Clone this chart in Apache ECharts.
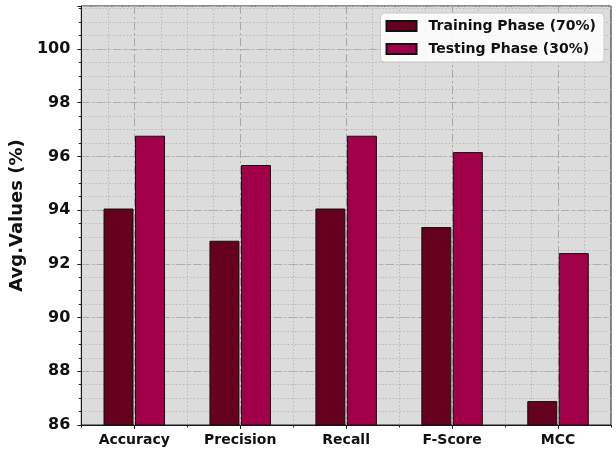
<!DOCTYPE html>
<html>
<head>
<meta charset="utf-8">
<script src="https://cdn.jsdelivr.net/npm/echarts@6/dist/echarts.min.js"></script>
<style>
  html, body { margin: 0; padding: 0; background: #ffffff; }
  #chart { width: 616px; height: 452px; }
</style>
</head>
<body>
<div id="chart"></div>
<script>
// Metric categories and per-phase averages (%)
const categories = ['Accuracy', 'Precision', 'Recall', 'F-Score', 'MCC'];
const trainingValues = [94.06, 92.86, 94.06, 93.37, 86.89];
const testingValues = [96.77, 95.68, 96.77, 96.16, 92.40];
const seriesNames = ['Training Phase (70%)', 'Testing Phase (30%)'];
const yTickStep = 2;

// Quarter-category positions across the x range (-0.5 .. 4.5) for the grid
const quarterSlots = [];
for (let k = 0; k <= categories.length * 4; k++) quarterSlots.push(String(k));

const FONT = 'DejaVu Sans';
const chart = echarts.init(document.getElementById('chart'), null, { renderer: 'canvas' });

const hiddenCat = (extra) => Object.assign({
  type: 'category',
  data: quarterSlots,
  boundaryGap: false,
  gridIndex: 0,
  position: 'bottom',
  axisLine: { show: false },
  axisLabel: { show: false },
  axisPointer: { show: false }
}, extra);

chart.setOption({
  animation: false,
  backgroundColor: '#ffffff',
  textStyle: { fontFamily: FONT },
  grid: {
    left: 81, right: 5, top: 6, bottom: 27,
    show: true,
    backgroundColor: '#dcdcdc',
    borderColor: '#1a1a1a',
    borderWidth: 1
  },
  legend: {
    orient: 'vertical',
    right: 12,
    top: 13,
    itemWidth: 30,
    itemHeight: 10,
    itemGap: 9,
    padding: [6, 8, 6, 5],
    backgroundColor: 'rgba(255,255,255,0.85)',
    borderColor: '#cccccc',
    borderWidth: 1,
    borderRadius: 4,
    icon: 'rect',
    textStyle: { fontFamily: FONT, fontWeight: 'bold', fontSize: 14, color: '#111', padding: [0, 0, 0, 7] },
    data: seriesNames
  },
  xAxis: [
    {
      type: 'category',
      data: categories,
      boundaryGap: true,
      axisLine: { show: true, lineStyle: { color: '#1a1a1a', width: 1 } },
      axisTick: { show: false },
      splitLine: { show: false },
      axisLabel: { fontFamily: FONT, fontWeight: 'bold', fontSize: 14, color: '#111', margin: 8 }
    },
    hiddenCat({
      // major vertical grid lines at each category centre
      axisTick: { show: true, interval: (i) => i % 4 === 2, length: 4, lineStyle: { color: '#222' } },
      splitLine: {
        show: true,
        interval: (i) => i % 4 === 2,
        lineStyle: { color: '#a6a6a6', width: 1, type: [8, 3, 2, 3] }
      }
    }),
    hiddenCat({
      // minor vertical grid lines every quarter category
      axisTick: { show: true, interval: (i) => i % 2 === 0 && i % 4 !== 2, length: 2.5, lineStyle: { color: '#222' } },
      splitLine: {
        show: true,
        interval: (i) => i % 4 !== 2 && i > 0 && i < quarterSlots.length - 1,
        lineStyle: { color: '#b9b9b9', width: 1, type: [1.5, 2] }
      }
    })
  ],
  yAxis: [
    {
      type: 'value',
      min: 86,
      max: 101.6,
      interval: yTickStep,
      name: 'Avg.Values (%)',
      nameLocation: 'middle',
      nameRotate: 90,
      nameGap: 48,
      nameTextStyle: { fontFamily: FONT, fontWeight: 'bold', fontSize: 18, color: '#111' },
      axisLine: { show: true, lineStyle: { color: '#1a1a1a', width: 1 } },
      axisTick: { show: true, length: 4, lineStyle: { color: '#222' } },
      axisLabel: {
        fontFamily: FONT, fontWeight: 'bold', fontSize: 16, color: '#111', margin: 11,
        formatter: (v) => (Math.abs(v % yTickStep) < 1e-6 ? String(v) : '')
      },
      splitLine: { show: true, lineStyle: { color: '#a6a6a6', width: 1, type: [8, 3, 2, 3] } }
    },
    {
      type: 'value',
      min: 86,
      max: 101.6,
      interval: 0.5,
      position: 'left',
      axisLine: { show: false },
      axisTick: { show: true, length: 2.5, lineStyle: { color: '#222' } },
      axisLabel: { show: false },
      splitLine: { show: true, lineStyle: { color: '#b9b9b9', width: 1, type: [1.5, 2] } }
    }
  ],
  series: [
    {
      name: seriesNames[0],
      type: 'bar',
      xAxisIndex: 0,
      yAxisIndex: 0,
      data: trainingValues,
      barWidth: 30,
      barGap: '5%',
      itemStyle: { color: '#66001f', borderColor: '#111', borderWidth: 1 },
      z: 5
    },
    {
      name: seriesNames[1],
      type: 'bar',
      xAxisIndex: 0,
      yAxisIndex: 0,
      data: testingValues,
      barWidth: 30,
      barGap: '5%',
      itemStyle: { color: '#a10048', borderColor: '#111', borderWidth: 1 },
      z: 5
    }
  ]
});
</script>
</body>
</html>
